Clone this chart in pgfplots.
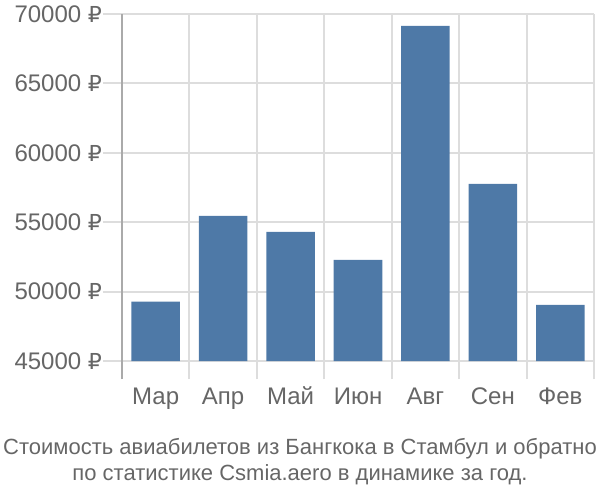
\documentclass[border=0pt]{standalone}
\usepackage{fontspec}
\setmainfont{Liberation Sans}
\newfontfamily\rub{DejaVu Sans}
\usepackage{pgfplots}
\pgfplotsset{compat=1.18}
\definecolor{barblue}{HTML}{4E79A7}
\definecolor{txt}{HTML}{666666}
\definecolor{gridc}{HTML}{DDDDDD}
\definecolor{axc}{HTML}{AAAAAA}
\newcommand{\R}{{\rub\fontsize{11}{14}\selectfont ₽}}
\begin{document}
\begin{tikzpicture}
\useasboundingbox (0,0) rectangle (300pt,250pt);
\begin{axis}[
  at={(61pt,69.5pt)}, anchor=south west,
  scale only axis, width=236pt, height=173.5pt,
  xmin=-0.5, xmax=6.5, ymin=45000, ymax=70000,
  xtick={0,...,6},
  xticklabels={Мар,Апр,Май,Июн,Авг,Сен,Фев},
  minor xtick={-0.5,0.5,...,6.5},
  ytick={45000,50000,...,70000},
  yticklabels={45000 \R,50000 \R,55000 \R,60000 \R,65000 \R,70000 \R},
  scaled y ticks=false,
  axis lines*=left,
  x axis line style={draw=none},
  y axis line style={draw=axc, line width=1pt, -, shorten <=-9pt},
  ymajorgrids, xminorgrids,
  grid style={draw=gridc, line width=1pt},
  minor grid style={draw=gridc, line width=1pt},
  tick align=outside,
  major tick length=9.5pt, minor tick length=9pt,
  major x tick style={draw=none},
  minor x tick style={draw=gridc, line width=1pt},
  major y tick style={draw=gridc, line width=1pt},
  ticklabel style={font=\fontsize{12}{14}\selectfont, text=txt},
  xticklabel style={text height=9pt, text depth=2.5pt, yshift=0.5pt},
  yticklabel style={xshift=3pt},
  ybar, bar width=0.72,
]
\addplot[fill=barblue, draw=none] coordinates {
  (0,49280) (1,55450) (2,54300) (3,52280) (4,69150) (5,57760) (6,49040)
};
\end{axis}
\node[text=txt, font=\fontsize{11}{14}\selectfont] at (150pt,25.5pt) {Стоимость авиабилетов из Бангкока в Стамбул и обратно};
\node[text=txt, font=\fontsize{11}{14}\selectfont] at (150pt,12.5pt) {по статистике Csmia.aero в динамике за год.};
\end{tikzpicture}
\end{document}
